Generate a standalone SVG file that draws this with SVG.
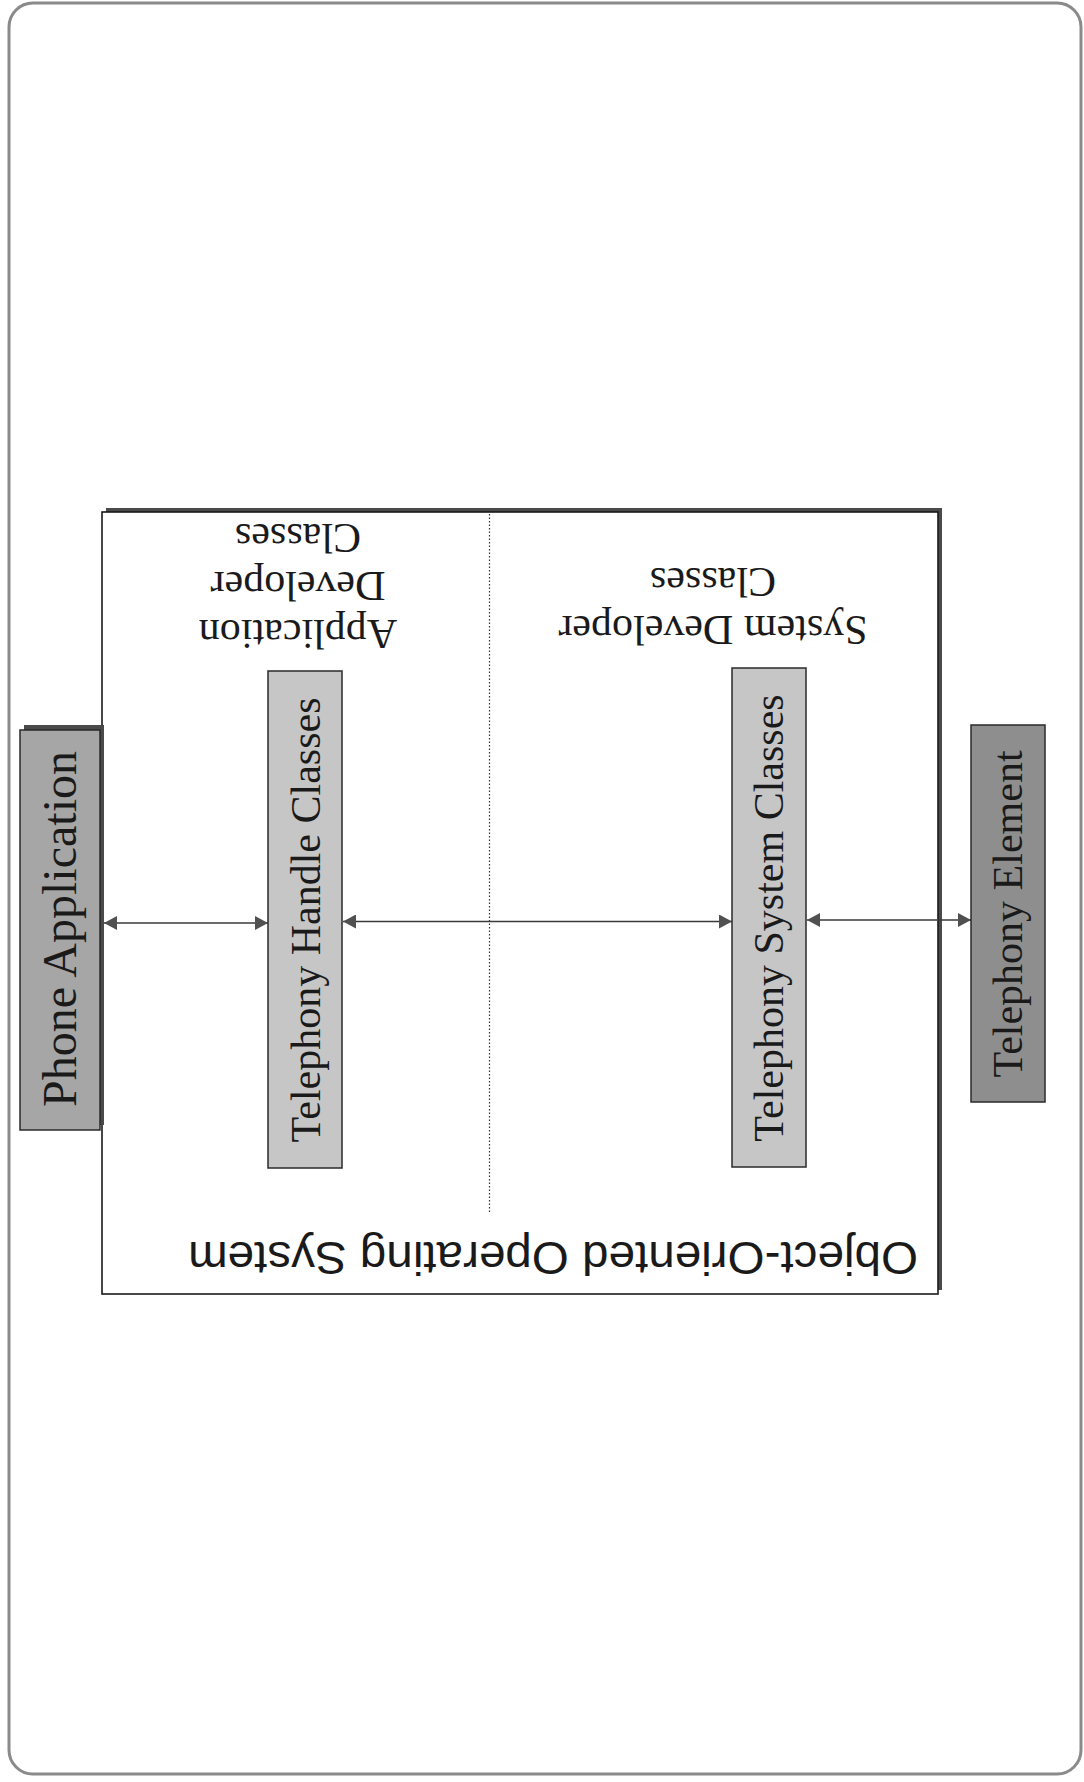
<svg xmlns="http://www.w3.org/2000/svg" width="1084" height="1782" viewBox="0 0 1084 1782">
  <style>
    .serif { font-family: "Liberation Serif", "Times New Roman", serif; fill: #1a1a1a; }
    .sans { font-family: "Liberation Sans", Arial, sans-serif; fill: #1a1a1a; }
    .box { stroke: #2a2a2a; stroke-width: 1.5; }
    .shadow { fill: #4a4a4a; }
    .light { fill: #c6c6c6; }
    .mid { fill: #a6a6a6; }
    .dark { fill: #8e8e8e; }
    .link { stroke: #3a3a3a; stroke-width: 1.6; fill: none; marker-start: url(#head); marker-end: url(#head); }
  </style>
  <defs>
    <marker id="head" viewBox="0 0 14 14" refX="13" refY="7" markerWidth="14" markerHeight="14" markerUnits="userSpaceOnUse" orient="auto-start-reverse">
      <path d="M0,0 L13,7 L0,14 Z" fill="#505050"/>
    </marker>
  </defs>

  <!-- page frame -->
  <rect x="9" y="3" width="1072" height="1771" rx="24" ry="24" fill="#ffffff" stroke="#8a8a8a" stroke-width="3"/>

  <!-- operating system container -->
  <g id="os-container">
    <rect class="shadow" x="106" y="508" width="836" height="782"/>
    <rect x="102" y="512" width="836" height="782" fill="#ffffff" stroke="#1a1a1a" stroke-width="1.6"/>
    <line x1="489.5" y1="514" x2="489.5" y2="1213" stroke="#333" stroke-width="1.2" stroke-dasharray="1.5 2"/>
    <text class="sans" font-size="46" text-anchor="middle" textLength="730" lengthAdjust="spacingAndGlyphs" transform="translate(553,1242) rotate(180)">Object-Oriented Operating System</text>
  </g>

  <!-- region captions (upside down) -->
  <g id="app-dev-label" class="serif" font-size="42" text-anchor="middle">
    <text transform="translate(298,524) rotate(180)">Classes</text>
    <text transform="translate(298,572) rotate(180)">Developer</text>
    <text transform="translate(298,620) rotate(180)">Application</text>
  </g>
  <g id="sys-dev-label" class="serif" font-size="42" text-anchor="middle">
    <text transform="translate(713,568) rotate(180)">Classes</text>
    <text transform="translate(713,616) rotate(180)">System Developer</text>
  </g>

  <!-- connectors -->
  <g id="connectors">
    <line class="link" x1="104" y1="923" x2="268" y2="923"/>
    <line class="link" x1="343" y1="921.5" x2="732" y2="921.5"/>
    <line class="link" x1="807" y1="920" x2="971" y2="920"/>
  </g>

  <!-- nodes -->
  <g id="phone-application">
    <rect class="shadow" x="24" y="725" width="80" height="400"/>
    <rect class="box mid" x="20" y="730" width="80" height="400"/>
    <text class="serif" font-size="48" text-anchor="middle" transform="translate(76,929) rotate(-90)">Phone Application</text>
  </g>

  <g id="telephony-handle-classes">
    <rect class="box light" x="268" y="671" width="74" height="497"/>
    <text class="serif" font-size="42" text-anchor="middle" transform="translate(320,920) rotate(-90)">Telephony Handle Classes</text>
  </g>

  <g id="telephony-system-classes">
    <rect class="box light" x="732" y="668" width="74" height="499"/>
    <text class="serif" font-size="42" text-anchor="middle" transform="translate(783,918) rotate(-90)">Telephony System Classes</text>
  </g>

  <g id="telephony-element">
    <rect class="box dark" x="971" y="725" width="74" height="377"/>
    <text class="serif" font-size="42" text-anchor="middle" transform="translate(1022,914) rotate(-90)">Telephony Element</text>
  </g>
</svg>
